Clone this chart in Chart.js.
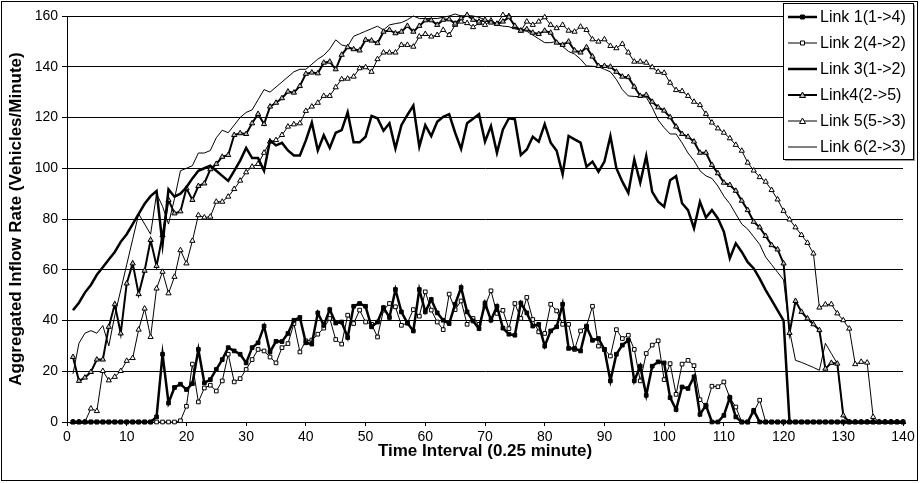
<!DOCTYPE html>
<html>
<head>
<meta charset="utf-8">
<script src="https://cdn.jsdelivr.net/npm/chart.js@4.4.1/dist/chart.umd.min.js"></script>
<style>
  html, body { margin: 0; padding: 0; background: #fff; }
  canvas { display: block; }
</style>
</head>
<body>
<canvas id="inflowChart" width="920" height="483"></canvas>
<script>
// time intervals (0.25 minute each)
const intervals = [1,2,3,4,5,6,7,8,9,10,11,12,13,14,15,16,17,18,19,20,21,22,23,24,25,26,27,28,29,30,
  31,32,33,34,35,36,37,38,39,40,41,42,43,44,45,46,47,48,49,50,51,52,53,54,55,56,57,58,59,60,
  61,62,63,64,65,66,67,68,69,70,71,72,73,74,75,76,77,78,79,80,81,82,83,84,85,86,87,88,89,90,
  91,92,93,94,95,96,97,98,99,100,101,102,103,104,105,106,107,108,109,110,111,112,113,114,115,116,117,118,119,120,
  121,122,123,124,125,126,127,128,129,130,131,132,133,134,135,136,137,138,139,140]

const xTickValues = [0, 10, 20, 30, 40, 50, 60, 70, 80, 90, 100, 110, 120, 130, 140]
const yTickValues = [0, 20, 40, 60, 80, 100, 120, 140, 160]

const seriesNames = ['Link 1(1->4)', 'Link 2(4->2)', 'Link 3(1->2)', 'Link4(2->5)', 'Link 5(5->3)', 'Link 6(2->3)']

// aggregated inflow rate, vehicles/minute
const link1 = [0,0,0,0,0,0,0,0,0,0,0,0,0,0,2,26.7,7.5,13.6,14.9,12.8,
  15.1,28.6,15.4,16.7,20.7,24.6,29.3,28,26.7,23.3,29.3,31.2,37.8,27.6,31.8,31.7,34.9,40.1,41.2,31.2,
  30.7,43,38.1,44.3,39,39.4,33.3,45.6,46.7,45.6,37.5,39.4,45.1,41.2,52.2,43.4,39,35.9,52.2,43.4,
  48.3,43,40.1,38.8,46.4,53,43.4,39.8,36.8,46.9,40.1,45.6,37,34.6,34.2,46.9,43,37.8,38.5,29.9,
  35.9,37.5,46.4,29,29,28,37.5,32.2,32.9,28.6,16.2,26.7,30.3,32.2,16.2,22,10.5,22,23.7,23.3,
  9.6,4.9,13.8,13.2,17.8,3,6.6,0,0,2.6,9.6,2,0,0,4.6,0,0,0,0,0,
  0,0,0,0,0,0,0,0,0,0,0,0,0,0,0,0,0,0,0,0]

const link2 = [0,0,0,0,0,0,0,0,0,0,0,0,0,0,0,0,0,0,0.5,6.2,
  22.8,7.9,13.4,14.5,12.2,16.2,26.7,15.8,17.1,20.7,24.6,28.6,28,25.6,23.3,29.3,30.9,38.8,27.6,32,
  32.3,34.6,37,40.8,32.5,30.7,42.1,38.8,44.1,39.4,38.5,33.5,44.1,46.7,45.4,38.1,39,44.3,41.7,51.3,
  44.1,39.4,36.4,50.4,44.3,47.7,38.5,40.8,38.5,45.6,51.7,42.8,44,36.8,46.7,40.8,49.1,40.4,35.5,34.9,
  46.4,43.8,38.5,38.5,28.6,35.9,37.8,45.6,29.9,28.6,26,36.4,32.9,34.2,28.6,16.2,27,30.3,32,16.7,
  23,10.9,22.8,24.3,22.2,8.8,6.2,14.1,13.9,15.8,9.6,5.9,0,0,4,8.6,0,0,0,0,
  0,0,0,0,0,0,0,0,0,0,0,0,0,0,0,0,0,0,0,0]

const link3 = [44,47,51,54,58,61,64,67,71,74,78,82,86,89,91,70,91.7,88.8,90,92.5,
  96,99,100,101,99,97,95,99,103,108,104,104,99,111,109,110,107,105,105,111,
  118,107,113,108,114,115,122,110.2,110.2,112.4,120.6,119.7,114.8,117.7,107.8,117,121,124.7,108.5,117,
  112.7,118.3,120.3,121.3,114,107.6,117.7,119.5,121.3,110.5,116.6,106.1,115.3,119.7,119.3,105.2,107.4,112.4,110.5,117.4,
  110.1,106.9,97.6,112.7,111.4,110.1,100.6,102.6,98.6,102.6,112.7,100,94.7,90.3,103.5,94.3,104.8,90.7,86.8,84.8,
  95.3,96.9,86.2,83.5,76.3,86.8,80.6,83.5,80.2,75,64.5,70.4,67,63,60.5,56.5,52,48,44,40,
  0,0,0,0,0,0,0,0,0,0,0,0,0,0,0,0,0,0,0,0]

const link4 = [25.6,16.2,17.5,19.7,24.6,24.6,37.5,46.4,34.9,54.6,62.5,50.4,59.6,71.7,61.5,73.6,87.5,82.2,83,92.1,
  87.5,93,94,99.6,101.7,104.5,105.2,113.1,113.8,113.5,117.7,121.4,117.4,124.3,125.8,127.6,130.2,129.8,132.4,137.2,
  137.7,137.4,141.6,142,139,144.7,147.7,146.9,146.4,150.6,150.3,149.3,153.8,154.5,153.2,153.8,156.1,153.8,156.1,158.3,
  158.3,156.5,158.5,158.7,157,159.1,160.4,158.5,157.8,158.5,157.4,156.9,157.8,159.5,156.1,154.2,154.8,153.4,152.9,154.2,
  153.4,149.5,148.6,149.9,146.4,145.6,147.7,144,140.3,140.3,140,138,136.1,135.9,132.1,128.5,128.9,126.2,124,122.7,
  120.1,116.4,113.5,112.4,110.5,106.1,106.1,101.3,98,94.3,93.4,91.1,87.2,83.5,78.9,76.7,73.3,69.7,68,62.5,
  35.1,47.7,43.4,40.8,38.5,36.2,21,23.3,23,2.6,0,0,0,0,0,0,0,0,0,0]

const link5 = [0,0,0,5.3,4.3,20.1,16.4,17.8,20.1,24.1,25.2,36.4,44.7,33.5,52.6,59.2,50.7,57.2,67.7,62.5,
  71.4,81.5,80.6,80.9,86.8,86.8,88.8,91.8,95.1,98.4,100.6,101.7,106.1,110.5,111.1,113.1,116.4,117.3,117.7,122.6,
  124.3,125.8,128.5,128.5,131.9,135.1,135.3,136.1,139.4,139.8,138,143,145.6,145.6,145.6,148.6,148.6,147.9,151.9,152.9,
  151.9,152.5,154.5,152.5,156.5,157.8,157.2,155.6,157.2,156.5,158.2,156.9,160.4,160,155.6,154.2,157.8,156.5,157.8,159.5,
  156.5,155.2,156.5,154.2,153.8,155.8,154.5,150.8,149.9,150.8,148.2,147.3,149,145.6,142,142,141.6,139.8,138,137.6,
  133.7,130.8,130.4,128.5,126.2,124.9,121.4,118,115.7,114,111.8,109.2,106.9,102.2,99.1,96.5,94.7,91.4,87.7,83.2,
  79.8,76.7,73.7,70.6,66.4,45.1,46.3,46.4,42.8,40.1,36.8,22.8,23.7,23.4,2,0,0,0,0,0]

const link6 = [19,31,35,36,35,38,30,42,52,62,72,82,78,74,90,85,78,88,99,100,
  101,106,106,107,112,115,114,117,120,122,123,127,131,130,132,134,136,138,139,139,
  141,143,144.5,147,150.6,148.6,148,152,153,154,155,156,154.5,156.5,157,157.4,158.5,160,159,159,
  159,159,159.5,160,160.8,160,160.2,160,159.5,158.5,157.5,156.5,156,155.8,155,154.5,154,152.5,151,149.5,
  149.5,150,148,146,145,143,140.3,140.2,140,139,138,135,131,128.5,128.3,128.2,128,124,119,116,
  113.5,113.5,110,106,103,99,97,96,93,89,86,82,78,76,73,70,65,62,59,56,
  36,24.3,23.5,22.5,21.5,20.4,31,27,23,2,0,0,0,0,0,0,0,0,0,0]

const seriesValues = [link1, link2, link3, link4, link5, link6]

// line look of each link, as in the printed chart
const seriesLook = [
  { borderWidth: 2.5, pointStyle: 'rect', pointRadius: 2.6, pointBackgroundColor: '#000' },
  { borderWidth: 1, pointStyle: 'rect', pointRadius: 2.6, pointBackgroundColor: '#fff' },
  { borderWidth: 2.5, pointRadius: 0 },
  { borderWidth: 2, pointStyle: 'triangle', pointRadius: 3, pointBackgroundColor: '#bbb' },
  { borderWidth: 1, pointStyle: 'triangle', pointRadius: 3, pointBackgroundColor: '#fff' },
  { borderWidth: 1, pointRadius: 0 }
]

const FONT = '"Liberation Sans", Arial, sans-serif'

const datasets = seriesNames.map((name, i) => Object.assign({
  label: name,
  data: intervals.map((t, j) => ({ x: t, y: seriesValues[i][j] })),
  borderColor: '#000',
  backgroundColor: '#000',
  pointBorderColor: '#000',
  pointBorderWidth: 1,
  pointHoverRadius: 0,
  tension: 0,
  clip: false
}, seriesLook[i]))

// small marker for the legend box
function legendMarker(ctx, look, x, y) {
  if (!look.pointRadius) return
  ctx.fillStyle = look.pointBackgroundColor
  ctx.strokeStyle = '#000'
  ctx.lineWidth = 1
  ctx.beginPath()
  if (look.pointStyle === 'rect') {
    ctx.rect(x - 2, y - 2, 4, 4)
  } else {
    ctx.moveTo(x, y - 3)
    ctx.lineTo(x + 3, y + 2.5)
    ctx.lineTo(x - 3, y + 2.5)
    ctx.closePath()
  }
  ctx.fill()
  ctx.stroke()
}

const framePlugin = {
  id: 'frame',
  beforeDraw(chart) {
    const ctx = chart.ctx
    ctx.save()
    ctx.fillStyle = '#fff'
    ctx.fillRect(0, 0, chart.width, chart.height)
    ctx.restore()
  },
  afterDraw(chart) {
    const ctx = chart.ctx
    ctx.save()
    // outer chart border
    ctx.strokeStyle = '#000'
    ctx.lineWidth = 1
    ctx.strokeRect(1.5, 1.5, 916, 479)

    // legend box in the top right corner
    const x0 = 783, y0 = 3, w = 130, h = 156
    ctx.fillStyle = '#999'
    ctx.fillRect(x0 + 2, y0 + 2, w, h)
    ctx.fillStyle = '#fff'
    ctx.fillRect(x0, y0, w, h)
    ctx.strokeRect(x0 + 0.5, y0 + 0.5, w, h)
    ctx.font = '16px ' + FONT
    ctx.textBaseline = 'middle'
    seriesNames.forEach((name, i) => {
      const cy = y0 + 14 + i * 26
      ctx.strokeStyle = '#000'
      ctx.lineWidth = seriesLook[i].borderWidth
      ctx.beginPath()
      ctx.moveTo(x0 + 5, cy)
      ctx.lineTo(x0 + 34, cy)
      ctx.stroke()
      legendMarker(ctx, seriesLook[i], x0 + 19.5, cy)
      ctx.fillStyle = '#000'
      ctx.fillText(name, x0 + 37, cy + 1)
    })
    ctx.restore()
  }
}

new Chart(document.getElementById('inflowChart'), {
  type: 'line',
  data: { datasets: datasets },
  options: {
    responsive: false,
    animation: false,
    devicePixelRatio: 1,
    layout: { padding: { left: 0, top: 16, right: 17, bottom: 21 } },
    plugins: {
      legend: { display: false },
      tooltip: { enabled: false }
    },
    scales: {
      x: {
        type: 'linear',
        min: 0,
        max: 140,
        afterBuildTicks: (scale) => { scale.ticks = xTickValues.map(v => ({ value: v })) },
        afterFit: (scale) => { scale.height = 40 },
        ticks: { color: '#000', font: { family: FONT, size: 14 }, padding: 3, maxRotation: 0, autoSkip: false },
        grid: { drawOnChartArea: false, drawTicks: true, tickLength: 4, color: '#000' },
        border: { display: true, color: '#000', width: 1 },
        title: {
          display: true,
          text: 'Time Interval (0.25 minute)',
          color: '#000',
          font: { family: FONT, size: 17, weight: 'bold' },
          padding: { top: 0, bottom: 0 }
        }
      },
      y: {
        min: 0,
        max: 160,
        afterBuildTicks: (scale) => { scale.ticks = yTickValues.map(v => ({ value: v })) },
        afterFit: (scale) => { scale.width = 67 },
        ticks: { color: '#000', font: { family: FONT, size: 14 }, padding: 4 },
        grid: { color: '#000', lineWidth: 1, tickLength: 5 },
        border: { display: true, color: '#000', width: 1 },
        title: {
          display: true,
          text: 'Aggregated Inflow Rate (Vehicles/Minute)',
          color: '#000',
          font: { family: FONT, size: 17, weight: 'bold' },
          padding: { top: 6, bottom: 0 }
        }
      }
    }
  },
  plugins: [framePlugin]
})
</script>
</body>
</html>
